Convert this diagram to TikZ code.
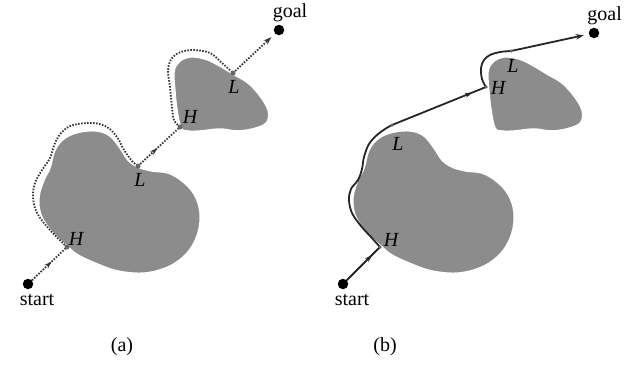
\documentclass[tikz,border=0pt]{standalone}
\usepackage{fontspec}
\setmainfont{Liberation Serif}
\usetikzlibrary{arrows.meta,decorations.markings}
\begin{document}
\begin{tikzpicture}[x=1pt,y=-1pt,
  blob/.style={fill=black!45,draw=white,line width=1.5pt},
  endpt/.style={circle,fill=black,inner sep=0pt,minimum size=10.5pt},
  hl/.style={circle,fill=black!60,inner sep=0pt,minimum size=5pt},
  hlb/.style={circle,fill=black!60,inner sep=0pt,minimum size=3.5pt},
  lbl/.style={font=\fontsize{20}{23}\selectfont\itshape,inner sep=0pt},
  txt/.style={font=\fontsize{20}{23}\selectfont,inner sep=0pt},
  captxt/.style={font=\fontsize{20}{23}\selectfont,inner sep=0pt},
  dotpath/.style={line width=1.8pt,dash pattern=on 1.5pt off 1.5pt,black!80},
  solidpath/.style={line width=1.8pt,black!85},
  midarrow/.style={postaction={decorate,decoration={markings,
     mark=at position #1 with {\arrow[line width=1pt]{Stealth[length=7pt,width=5pt]}}}}},
  endarrow/.style={-{Stealth[length=8pt,width=5.5pt]},shorten >=5pt}
]
\useasboundingbox (0,0) rectangle (624,365);
\fill[white] (0,0) rectangle (624,365);

% ---------- blobs ----------
\foreach \dx in {0,314}{
\begin{scope}[xshift=\dx]
\draw[blob] plot[smooth cycle,tension=0.6] coordinates {
 (68,247) (52,232) (41,215) (39,197) (44,180) (50,168) (55,150) (65,138)
 (80,132) (97,131) (110,136) (120,148) (128,160) (138,167) (152,171)
 (168,173) (182,181) (194,194) (200,212) (198,233) (188,252) (170,266)
 (145,273) (118,271) (95,263) (78,255)};
\draw[blob] plot[smooth cycle,tension=0.6] coordinates {
 (181,128) (177,110) (175,92) (174,72) (179,62) (190,57) (205,59) (218,65)
 (233,74) (248,83) (260,96) (268,110) (267,122) (256,128) (238,131)
 (220,129) (200,131) (188,131)};
\end{scope}}

% ---------- panel (a) ----------
\node[endpt] (S1) at (28,284) {};
\node[endpt] (G1) at (279,30) {};
\node[txt] (S1t) at (37,300) {start};
\node[txt] (G1t) at (290,13) {goal};
\coordinate (H1) at (67,247);
\coordinate (L1) at (138,166);
\coordinate (H2) at (180,127);
\coordinate (L2) at (233,73);

\draw[dotpath,midarrow=0.55] (S1) -- (H1);
\draw[dotpath] plot[smooth,tension=0.6] coordinates {
 (H1) (50,230) (37,213) (33,197) (35,183) (42,170) (50,158) (55,143)
 (62,132) (73,125) (93,123) (107,127) (117,137) (124,150) (132,161) (L1)};
\draw[dotpath,midarrow=0.45] (L1) -- (H2);
\draw[dotpath] plot[smooth,tension=0.6] coordinates {
 (H2) (174,120) (172,107) (170,87) (168,70) (172,58) (181,52) (194,50)
 (210,53) (221,62) (L2)};
\draw[dotpath,endarrow] (L2) -- (G1);

\node[hl] (H1d) at (H1) {};
\node[hl] (L1d) at (L1) {};
\node[hl] (H2d) at (H2) {};
\node[hl] (L2d) at (L2) {};
\node[lbl] (H1l) at (76,239) {H};
\node[lbl] (L1l) at (140,180) {L};
\node[lbl] (H2l) at (190,117) {H};
\node[lbl] (L2l) at (234,87) {L};

% ---------- panel (b) ----------
\node[endpt] (S2) at (343,284) {};
\node[endpt] (G2) at (594,33) {};
\node[txt] (S2t) at (352,300) {start};
\node[txt,anchor=east] (G2t) at (622,16) {goal};
\coordinate (Hb1) at (380,247);
\coordinate (Lb1) at (392,125);
\coordinate (Hb2) at (486,87);
\coordinate (Lb2) at (511,51);

\draw[solidpath,midarrow=0.75] (S2) -- (Hb1);
\draw[solidpath] plot[smooth,tension=0.6] coordinates {
 (Hb1) (371,237) (361,226) (352,213) (349,200) (351,189) (358,180)
 (362,169) (364,157) (369,144) (377,135) (385,129) (Lb1)};
\draw[solidpath,midarrow=0.85] (Lb1) -- (Hb2);
\draw[solidpath] plot[smooth,tension=0.6] coordinates {
 (Hb2) (482,79) (481,68) (484,60) (490,55) (500,52) (Lb2)};
\draw[solidpath,endarrow] (Lb2) -- (G2);

\node[hlb] (Hb1d) at (Hb1) {};
\node[hlb] (Lb1d) at (Lb1) {};
\node[hlb] (Hb2d) at (Hb2) {};
\node[hlb] (Lb2d) at (Lb2) {};
\node[lbl] (Hb1l) at (391,240) {H};
\node[lbl] (Lb1l) at (398,144) {L};
\node[lbl] (Hb2l) at (498,88) {H};
\node[lbl] (Lb2l) at (513,66) {L};

% ---------- captions ----------
\node[captxt] (ca) at (122,347) {(a)};
\node[captxt] (cb) at (385,347) {(b)};
\end{tikzpicture}
\end{document}
